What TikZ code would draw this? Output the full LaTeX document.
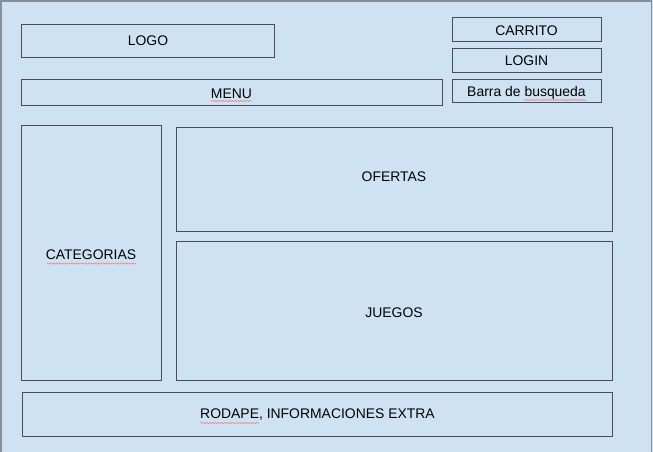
\documentclass[tikz,border=0pt]{standalone}
\usepackage{fontspec}
\setmainfont{Liberation Sans}
\usetikzlibrary{decorations.pathmorphing}
\definecolor{bg}{HTML}{CFE2F3}
\definecolor{edge}{HTML}{4A4F57}
\definecolor{outer}{HTML}{8A8F96}
\definecolor{spell}{HTML}{F08080}
\begin{document}
\begin{tikzpicture}[x=0.75pt,y=-0.75pt,
  box/.style={draw=edge,line width=0.75pt,fill=bg},
  lbl/.style={font=\fontsize{10.45}{12.5}\selectfont,text=black,inner sep=0pt},
  squig/.style={draw=spell,line width=0.4pt,decorate,decoration={snake,amplitude=0.5pt,segment length=2.2pt}}]
\useasboundingbox (0,0) rectangle (653,452);
\fill[bg] (0,0) rectangle (653,452);
\draw[outer,line width=1pt] (1,460) -- (1,1) -- (651.5,1) -- (651.5,460);
% boxes
\draw[box] (21,24.5) rectangle (274,57.5);
\draw[box] (21,79.5) rectangle (442,105.5);
\draw[box] (452,17.5) rectangle (601,41.5);
\draw[box] (452,48.5) rectangle (601,72.5);
\draw[box] (452,79.5) rectangle (601,102.5);
\draw[box] (21,125.5) rectangle (161,380.5);
\draw[box] (176,127.5) rectangle (612,231.5);
\draw[box] (176,241.5) rectangle (612,380.5);
\draw[box] (22,392.5) rectangle (612,436.5);
% labels
\node[lbl] (logo) at (148,41) {LOGO};
\node[lbl] (menu) at (231.5,94) {MENU};
\node[lbl] (carrito) at (526.5,31) {CARRITO};
\node[lbl] (login) at (526.5,61) {LOGIN};
\node[lbl] (barra) at (526.5,92) {Barra de \smash{busqueda}};
\node[lbl] (cat) at (91,255) {CATEGORIAS};
\node[lbl] (ofertas) at (394,177) {OFERTAS};
\node[lbl] (juegos) at (394,313) {JUEGOS};
\node[lbl] (rodape) at (317.5,415) {RODAPE, INFORMACIONES EXTRA};
% spell-check underlines
\draw[squig] (211,101) -- (252,101);
\draw[squig] (47,263.5) -- (136,263.5);
\draw[squig] (524,100) -- (586,100);
\draw[squig] (200,423) -- (259,423);
\end{tikzpicture}
\end{document}
